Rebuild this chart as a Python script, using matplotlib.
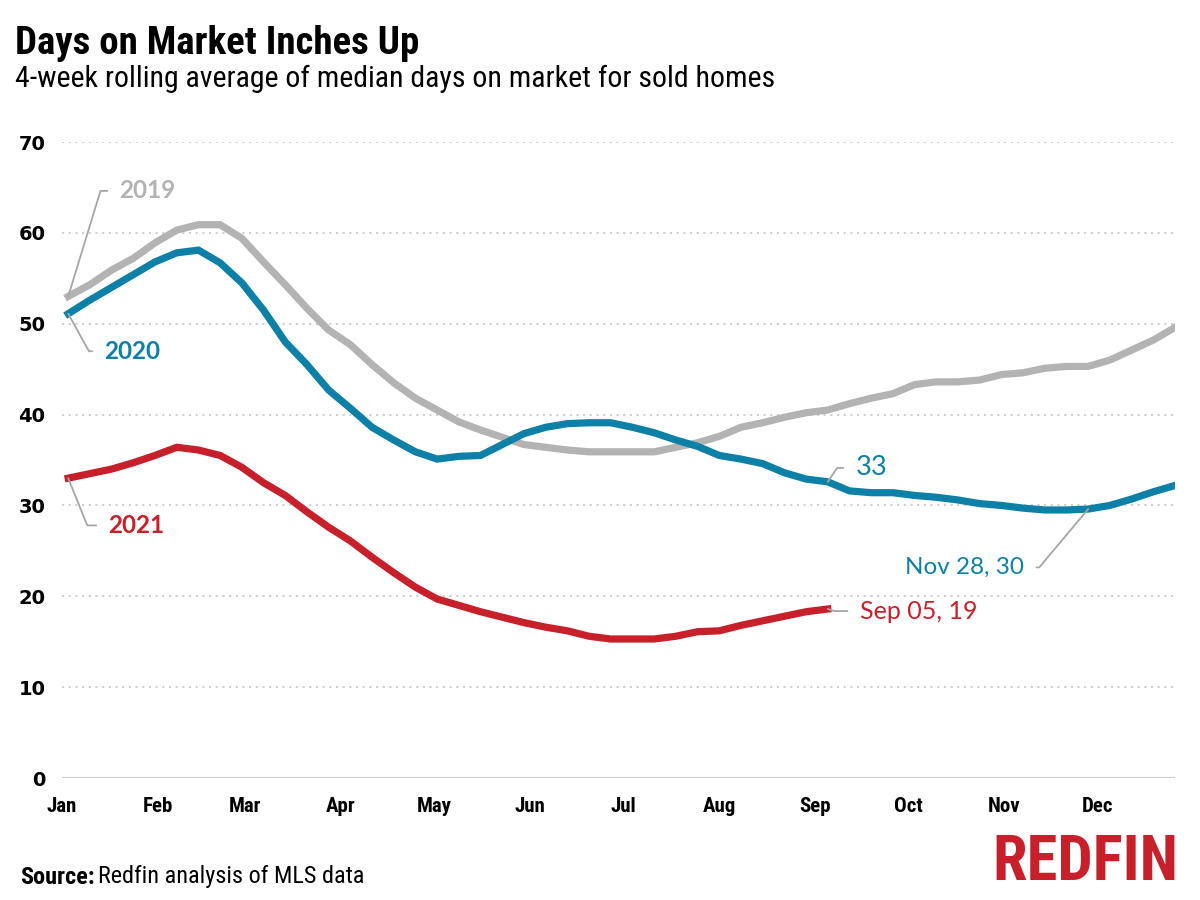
import numpy as np
import pandas as pd
import matplotlib
matplotlib.use("Agg")
import matplotlib.pyplot as plt
import matplotlib.dates as mdates
from matplotlib import font_manager

# weekly dates (shared calendar, 2021)
weeks = pd.date_range("2021-01-03", periods=52, freq="7D")

days_2019 = [53.0, 54.3, 55.9, 57.2, 58.9, 60.3, 60.9, 60.9, 59.4, 56.8,
             54.3, 51.7, 49.3, 47.7, 45.5, 43.5, 41.8, 40.5, 39.2, 38.3,
             37.5, 36.7, 36.4, 36.1, 35.9, 35.9, 35.9, 35.9, 36.4, 36.9,
             37.6, 38.6, 39.1, 39.7, 40.2, 40.5, 41.2, 41.8, 42.3, 43.3,
             43.6, 43.6, 43.8, 44.4, 44.6, 45.1, 45.3, 45.3, 46.0, 47.1,
             48.2, 49.6]
days_2020 = [51.1, 52.6, 54.0, 55.4, 56.8, 57.8, 58.1, 56.7, 54.5, 51.5,
             48.0, 45.5, 42.7, 40.7, 38.6, 37.2, 35.9, 35.1, 35.4, 35.5,
             36.7, 37.9, 38.6, 39.0, 39.1, 39.1, 38.6, 38.0, 37.2, 36.5,
             35.5, 35.1, 34.6, 33.6, 32.9, 32.6, 31.6, 31.4, 31.4, 31.1,
             30.9, 30.6, 30.2, 30.0, 29.7, 29.5, 29.5, 29.6, 30.0, 30.7,
             31.5, 32.2]
days_2021 = [33.0, 33.5, 34.0, 34.7, 35.5, 36.4, 36.1, 35.5, 34.2, 32.5,
             31.1, 29.3, 27.6, 26.1, 24.3, 22.6, 21.0, 19.7, 19.0, 18.3,
             17.7, 17.1, 16.6, 16.2, 15.6, 15.3, 15.3, 15.3, 15.6, 16.1,
             16.2, 16.8, 17.3, 17.8, 18.3, 18.6]

gray = "#B3B3B3"
teal = "#0C80A6"
red = "#C8202A"

installed = {f.name for f in font_manager.fontManager.ttflist}
narrow = next((n for n in ["Liberation Sans Narrow", "Roboto Condensed",
                           "Open Sans Condensed", "Noto Sans Display"]
               if n in installed), "Roboto")
label_font = "Lato" if "Lato" in installed else "DejaVu Sans"

fig = plt.figure(figsize=(12, 9), dpi=100)
ax = fig.add_axes([62 / 1200, 122 / 900, 1113 / 1200, 636 / 900])

ax.plot(weeks, days_2019, color=gray, lw=5.2, solid_joinstyle="miter", zorder=3)
ax.plot(weeks, days_2020, color=teal, lw=5.2, solid_joinstyle="miter", zorder=4)
ax.plot(weeks[:len(days_2021)], days_2021, color=red, lw=5.2,
        solid_joinstyle="miter", zorder=5)

ax.set_xlim(pd.Timestamp("2021-01-01"), weeks[-1])
ax.set_ylim(0, 70)
ax.set_yticks(range(0, 71, 10))
ax.xaxis.set_major_locator(mdates.MonthLocator())
ax.xaxis.set_major_formatter(mdates.DateFormatter("%b"))

for y in range(10, 71, 10):
    ax.axhline(y, color="#CCCCCC", lw=1.3, ls=(0, (1.2, 2.5)), zorder=1)
ax.axhline(0, color="#CCCCCC", lw=1.5, zorder=1)

for s in ax.spines.values():
    s.set_visible(False)
ax.tick_params(length=0)
ax.tick_params(axis="y", pad=12)
ax.tick_params(axis="x", pad=14)
for t in ax.get_yticklabels():
    t.set_fontfamily("DejaVu Sans")
    t.set_fontweight("bold")
    t.set_fontsize(14)
for t in ax.get_xticklabels():
    t.set_fontfamily(narrow)
    t.set_fontweight("bold")
    t.set_fontsize(15)

line_kw = dict(arrowstyle="-", color="#A6A6A6", lw=1.3, shrinkA=7, shrinkB=0)


def leader(x, y, text, color, offset, angle, ha="left", size=17, weight="bold"):
    ax.annotate(text, xy=(x, y), xytext=offset, textcoords="offset points",
                ha=ha, va="center", color=color, fontsize=size,
                fontfamily=label_font, fontweight=weight, zorder=6,
                bbox=dict(boxstyle="square,pad=0.1", fc="white", ec="none"),
                arrowprops=dict(connectionstyle=f"angle,angleA=0,angleB={angle},rad=0",
                                **line_kw))


leader(weeks[0], days_2019[0], "2019", gray, (37, 76), 73, size=17.5)
leader(weeks[0], days_2020[0], "2020", teal, (26, -27), -61, size=17.5)
leader(weeks[0], days_2021[0], "2021", red, (29, -34), -68, size=17.5)

i_sep = len(days_2021) - 1
i_nov = 47
leader(weeks[i_sep], days_2020[i_sep], f"{round(days_2020[i_sep])}", teal,
       (20, 10), 56, size=19.5, weight="normal")
leader(weeks[i_nov], days_2020[i_nov],
       f"{weeks[i_nov]:%b %d}, {round(days_2020[i_nov])}", teal,
       (-46, -42), 50, ha="right", size=17.5, weight="normal")
leader(weeks[i_sep], days_2021[i_sep],
       f"{weeks[i_sep]:%b %d}, {round(days_2021[i_sep])}", red,
       (23, -1.5), -17, size=18, weight="normal")

fig.text(15 / 1200, 1 - 44 / 900, "Days on Market Inches Up", fontsize=28,
         fontweight="bold", fontfamily=narrow, va="center", ha="left")
fig.text(15 / 1200, 1 - 79 / 900,
         "4-week rolling average of median days on market for sold homes",
         fontsize=21.5, fontfamily=narrow, va="center", ha="left")

src = fig.text(20 / 1200, 1 - 877 / 900, "Source:", fontsize=17.5,
               fontweight="bold", fontfamily=narrow, va="center", ha="left")
fig.canvas.draw()
bb = src.get_window_extent()
fig.text((bb.x1 + 3) / 1200, 1 - 877 / 900, "Redfin analysis of MLS data",
         fontsize=17.5, fontfamily=narrow, va="center", ha="left")

fig.text(1178 / 1200, 1 - 863 / 900, "REDFIN", fontsize=45, fontweight="bold",
         fontfamily=narrow, color=red, va="center", ha="right")

fig.savefig("out.png", dpi=100)
